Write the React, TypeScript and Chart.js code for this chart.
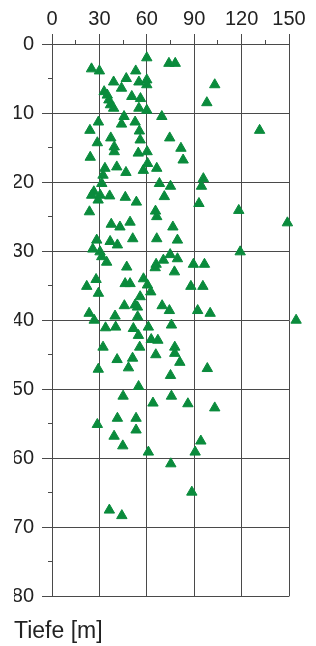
import React, { useEffect, useRef } from 'react';
import { Chart, registerables } from 'chart.js';

Chart.register(...registerables);

// Axis definitions
const valueMin = 0;
const valueMax = 150;
const valueStep = 30;
const valueMinorStep = 15;
const depthMin = 0;
const depthMax = 80;
const depthStep = 10;
const depthMinorStep = 5;
const depthLabel = 'Tiefe [m]';

// Measured values (x) and depths (y), grouped by depth range
const valuesA = [60, 74, 78, 25, 30, 53, 47, 39, 55, 60, 60, 103, 44, 33, 35, 36, 37, 50.5, 56, 98, 39, 55, 60];
const depthsA = [2.0, 2.8, 2.8, 3.6, 3.9, 3.9, 5.0, 5.5, 5.5, 5.2, 5.9, 5.9, 6.4, 6.9, 7.4, 8.1, 8.8, 7.6, 7.9, 8.5, 9.3, 9.3, 9.6];

const valuesB = [69.5, 45.6, 29.4, 44, 52.6, 24, 55.3, 131.4, 37.2, 55.8, 74.5, 28.7, 39.4, 39.4, 81.6, 24.2, 54.6, 60.2, 83, 60.5, 41, 33.5, 66.3, 57.8, 46.8, 32.3, 95.8, 31.5];
const depthsB = [10.5, 10.5, 11.3, 11.6, 11.3, 12.5, 12.6, 12.5, 13.6, 13.9, 13.6, 14.3, 14.9, 15.6, 15.1, 16.4, 15.8, 15.6, 16.8, 17.3, 17.8, 18, 18, 18.3, 18.6, 19, 19.5, 20.2];

const valuesC = [94.6, 68, 75, 26.5, 25.1, 30.5, 36.5, 29.2, 46.4, 71.1, 53.4, 93, 23.7, 65.5, 118.2, 66.3, 149, 37.5, 43, 49.4, 76.5, 28.3, 36.8, 41.4, 51.1, 66.3, 79.4, 25.8, 30.4, 119.1];
const depthsC = [20.6, 20.2, 20.6, 21.4, 21.9, 21.9, 22, 22.6, 22.2, 22.1, 22.9, 23.1, 24.3, 24.2, 24.1, 25, 25.9, 26.1, 26.5, 25.8, 26.5, 28.4, 28.6, 29.1, 28.2, 28.2, 28.4, 29.7, 30.1, 30.1];

const valuesD = [31.5, 34.6, 74.8, 79.4, 70.5, 65.9, 65.3, 47.3, 77.5, 89.5, 96.5, 27.9, 22, 29.4, 46.3, 49.4, 57.9, 60.4, 62.5, 87.9, 95.5, 55.8, 52.6, 45.8, 54.1, 69.7, 74.3, 92.2, 100.1, 23.5, 39.9, 54.2];
const depthsD = [30.8, 31.6, 30.5, 31.1, 31.3, 31.9, 32.4, 32.3, 33, 31.9, 31.9, 34.1, 35.1, 36.1, 34.7, 34.7, 34, 34.9, 35.9, 35.1, 35.1, 36.6, 37.8, 37.9, 38.1, 37.9, 38.6, 38.6, 39, 39, 39.4, 39.5];

const valuesE = [154.5, 26.7, 33.9, 40.3, 51.5, 61, 75.6, 54.7, 62.8, 67, 32.3, 55.5, 77.7, 77.7, 65.7, 51, 41.2, 80.9, 48.4, 29.3, 98.3, 75, 54.8, 45, 75.6, 63.9, 86, 103, 28.7, 41.4, 53.2, 39.3, 53.2, 44.8, 61, 94.2, 90.6, 75.2, 88.5, 36.3, 44.2];
const depthsE = [40, 40, 41.1, 41, 41.2, 41, 40.7, 42.2, 42.8, 42.9, 43.9, 43.9, 43.9, 44.8, 45, 45.5, 45.7, 46.1, 46.9, 47.1, 47, 48, 49.6, 51, 51, 52, 52.1, 52.7, 55.1, 54.2, 54.2, 56.8, 55.9, 58.2, 59.1, 57.5, 59.1, 60.8, 64.9, 67.5, 68.3];

const allValues = [...valuesA, ...valuesB, ...valuesC, ...valuesD, ...valuesE];
const allDepths = [...depthsA, ...depthsB, ...depthsC, ...depthsD, ...depthsE];

const GREEN = '#0a8b3c';
const GRID = '#4a4a4a';
const TEXT = '#222222';
const FONT = "'Liberation Sans', Arial, sans-serif";

export default function App() {
  const canvasRef = useRef<HTMLCanvasElement | null>(null);

  useEffect(() => {
    if (!canvasRef.current) return;
    const points = allValues.map((v, i) => ({ x: v, y: allDepths[i] }));
    const chart = new Chart(canvasRef.current, {
      type: 'scatter',
      data: {
        datasets: [
          {
            data: points,
            pointStyle: 'triangle',
            pointRadius: 6,
            pointHoverRadius: 12,
            pointBackgroundColor: GREEN,
            pointBorderColor: GREEN,
            pointBorderWidth: 1,
            clip: false as any,
          },
        ],
      },
      options: {
        animation: false,
        responsive: false,
        events: [],
        layout: { padding: { left: 14, right: 27, top: 0, bottom: 1 } },
        plugins: {
          legend: { display: false },
          tooltip: { enabled: false },
          title: {
            display: true,
            text: depthLabel,
            position: 'bottom',
            align: 'start',
            color: TEXT,
            font: { family: FONT, size: 23, weight: 'normal' },
            padding: { top: 21, bottom: 0 },
          },
        },
        scales: {
          x: {
            type: 'linear',
            position: 'top',
            min: valueMin,
            max: valueMax,
            weight: 1,
            afterFit: (s: any) => { s.height = 44; },
            ticks: {
              stepSize: valueStep,
              color: TEXT,
              padding: 3,
              font: { family: FONT, size: 20 },
            },
            grid: { color: GRID, lineWidth: 1, tickLength: 10 },
            border: { color: GRID, width: 1 },
          },
          xMinor: {
            type: 'linear',
            position: 'top',
            min: valueMin,
            max: valueMax,
            weight: 0,
            afterFit: (s: any) => { s.height = 0; },
            ticks: { stepSize: valueMinorStep, display: false },
            grid: { color: GRID, lineWidth: 1, tickLength: 4, drawOnChartArea: false },
            border: { display: false },
          },
          y: {
            type: 'linear',
            position: 'left',
            reverse: true,
            min: depthMin,
            max: depthMax,
            weight: 1,
            afterFit: (s: any) => { s.width = 38; },
            ticks: {
              stepSize: depthStep,
              color: TEXT,
              padding: 8,
              font: { family: FONT, size: 20 },
            },
            grid: { color: GRID, lineWidth: 1, tickLength: 10 },
            border: { color: GRID, width: 1 },
          },
          yMinor: {
            type: 'linear',
            position: 'left',
            reverse: true,
            min: depthMin,
            max: depthMax,
            weight: 0,
            afterFit: (s: any) => { s.width = 0; },
            ticks: { stepSize: depthMinorStep, display: false },
            grid: { color: GRID, lineWidth: 1, tickLength: 4, drawOnChartArea: false },
            border: { display: false },
          },
        },
      } as any,
    });
    return () => chart.destroy();
  }, []);

  return (
    <div style={{ position: 'absolute', left: 0, top: 0, width: 316, height: 646, background: '#fff' }}>
      <canvas ref={canvasRef} width={316} height={646} style={{ display: 'block' }} />
    </div>
  );
}
